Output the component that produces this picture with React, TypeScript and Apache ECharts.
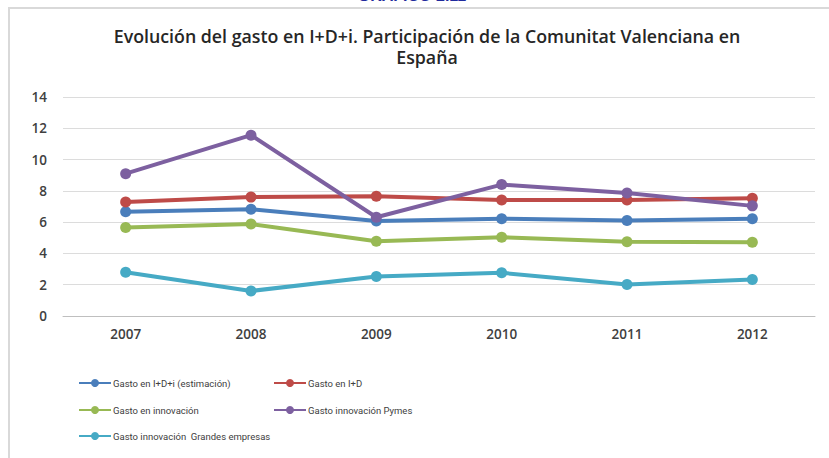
import React, { useEffect, useRef } from "react";
import * as echarts from "echarts";

const years = ["2007", "2008", "2009", "2010", "2011", "2012"];
const seriesNames = [
  "Gasto en I+D+i (estimación)",
  "Gasto en I+D",
  "Gasto en innovación",
  "Gasto innovación Pymes",
  "Gasto innovación  Grandes empresas",
];
const gastoIDi = [6.66, 6.82, 6.07, 6.22, 6.11, 6.22];
const gastoID = [7.29, 7.6, 7.66, 7.42, 7.42, 7.52];
const gastoInnovacion = [5.66, 5.88, 4.78, 5.04, 4.75, 4.71];
const gastoPymes = [9.1, 11.56, 6.31, 8.4, 7.87, 7.04];
const gastoGrandes = [2.8, 1.6, 2.53, 2.76, 2.02, 2.34];
const colors = ["#4a7ebb", "#be4b48", "#98b954", "#7d60a0", "#46aac5"];
const titleLines = [
  "Evolución del gasto en I+D+i. Participación de la Comunitat Valenciana en",
  "España",
];
const yTicks = { min: 0, max: 14, interval: 2 };

export default function App() {
  const ref = useRef<HTMLDivElement>(null);
  useEffect(() => {
    if (!ref.current) return;
    const chart = echarts.init(ref.current, undefined, { renderer: "svg" });
    const values = [gastoIDi, gastoID, gastoInnovacion, gastoPymes, gastoGrandes];
    const legendPos = [
      { left: 78, top: 378 },
      { left: 273, top: 378 },
      { left: 78, top: 405 },
      { left: 273, top: 405 },
      { left: 78, top: 431 },
    ];
    chart.setOption({
      animation: false,
      backgroundColor: "#ffffff",
      title: titleLines.map((t, i) => ({
        text: t,
        left: 427,
        textAlign: "center",
        top: 26 + i * 21,
        padding: 0,
        textStyle: {
          fontFamily: "Open Sans",
          fontWeight: 600,
          fontSize: 17.8,
          color: "#262626",
          lineHeight: 20,
        },
      })),
      graphic: [
        {
          type: "rect",
          shape: { x: 9, y: 8, width: 900, height: 500 },
          style: { fill: "none", stroke: "#d9d9d9", lineWidth: 2 },
          silent: true,
        },
        {
          type: "text",
          x: 412,
          y: -13,
          style: {
            text: "GRÁFICO 2.11",
            fill: "#1f2a9c",
            font: "bold 16px 'Liberation Sans'",
            textAlign: "center",
          },
        },
      ],
      legend: seriesNames.map((n, i) => ({
        data: [n],
        left: legendPos[i].left,
        top: legendPos[i].top,
        padding: 0,
        itemWidth: 32,
        itemHeight: 10,
        itemGap: 4,
        selectedMode: false,
        textStyle: { fontFamily: "Roboto", fontSize: 9.5, color: "#404040", padding: [0, 0, 0, -3] },
      })),
      grid: { left: 63, right: 14, top: 97, bottom: 142, containLabel: false },
      xAxis: {
        type: "category",
        data: years,
        boundaryGap: true,
        axisLine: { lineStyle: { color: "#bfbfbf", width: 1 } },
        axisTick: { show: false },
        axisLabel: {
          margin: 11,
          fontFamily: "Open Sans",
          fontWeight: 600,
          fontSize: 13.5,
          color: "#404040",
        },
      },
      yAxis: {
        type: "value",
        min: yTicks.min,
        max: yTicks.max,
        interval: yTicks.interval,
        axisLine: { show: false },
        axisTick: { show: false },
        splitLine: { lineStyle: { color: "#dcdcdc", width: 1 } },
        axisLabel: {
          margin: 16,
          fontFamily: "Open Sans",
          fontWeight: 600,
          fontSize: 13.5,
          color: "#404040",
        },
      },
      series: seriesNames.map((n, i) => ({
        name: n,
        type: "line",
        data: values[i],
        color: colors[i],
        symbol: "circle",
        symbolSize: 11,
        lineStyle: { width: 4, color: colors[i] },
        itemStyle: { color: colors[i] },
      })),
    });
    return () => chart.dispose();
  }, []);
  return (
    <div
      ref={ref}
      style={{ position: "fixed", left: 0, top: 0, width: 829, height: 458 }}
    />
  );
}
